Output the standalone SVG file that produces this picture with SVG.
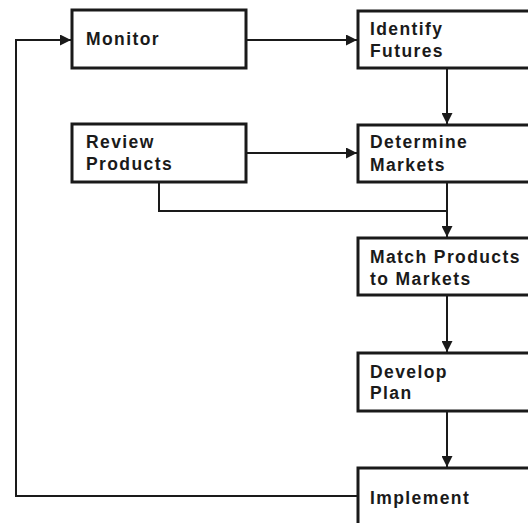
<svg xmlns="http://www.w3.org/2000/svg" width="528" height="523" viewBox="0 0 528 523">
<defs>
<style>
.box{fill:#fff;stroke:#1a1a1a;stroke-width:3}
.lbl{font-family:"Liberation Sans",Arial,sans-serif;font-weight:bold;font-size:17.5px;letter-spacing:1.4px;fill:#1a1a1a}
.con{fill:none;stroke:#1a1a1a;stroke-width:2}
</style>
<marker id="ah" viewBox="0 0 10 10" refX="10" refY="5" markerWidth="11" markerHeight="11" markerUnits="userSpaceOnUse" orient="auto">
<path d="M0,0 L10,5 L0,10 z" fill="#1a1a1a"/>
</marker>
</defs>
<rect width="528" height="523" fill="#fff"/>
<g id="connectors">
<path class="con" d="M246,40 H357" marker-end="url(#ah)"/>
<path class="con" d="M447,68 V124" marker-end="url(#ah)"/>
<path class="con" d="M246,153 H357" marker-end="url(#ah)"/>
<path class="con" d="M159,182 V211 H447"/>
<path class="con" d="M447,182 V237" marker-end="url(#ah)"/>
<path class="con" d="M447,295 V352" marker-end="url(#ah)"/>
<path class="con" d="M447,411 V467" marker-end="url(#ah)"/>
<path class="con" d="M358,496 H16 V40 H71" marker-end="url(#ah)"/>
</g>
<g id="monitor">
<rect class="box" x="72" y="10" width="174" height="58"/>
<text class="lbl" x="86" y="45">Monitor</text>
</g>
<g id="identify-futures">
<rect class="box" x="358" y="11" width="190" height="57"/>
<text class="lbl" x="370" y="35">Identify</text>
<text class="lbl" x="370" y="57">Futures</text>
</g>
<g id="review-products">
<rect class="box" x="72" y="124" width="174" height="58"/>
<text class="lbl" x="86" y="148">Review</text>
<text class="lbl" x="86" y="170">Products</text>
</g>
<g id="determine-markets">
<rect class="box" x="358" y="125" width="190" height="57"/>
<text class="lbl" x="370" y="148">Determine</text>
<text class="lbl" x="370" y="171">Markets</text>
</g>
<g id="match-products">
<rect class="box" x="358" y="238" width="190" height="57"/>
<text class="lbl" x="370" y="263">Match Products</text>
<text class="lbl" x="370" y="285">to Markets</text>
</g>
<g id="develop-plan">
<rect class="box" x="358" y="353" width="190" height="58"/>
<text class="lbl" x="370" y="378">Develop</text>
<text class="lbl" x="370" y="399">Plan</text>
</g>
<g id="implement">
<rect class="box" x="358" y="468" width="190" height="70"/>
<text class="lbl" x="370" y="504">Implement</text>
</g>
</svg>
